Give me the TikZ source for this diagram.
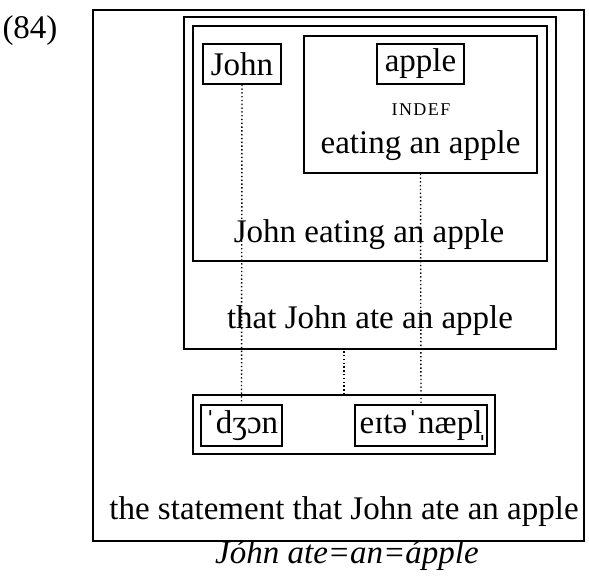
\documentclass[tikz,border=0pt]{standalone}
\usepackage{fontspec}
\setmainfont{Liberation Serif}
\begin{document}
\begin{tikzpicture}[x=1pt,y=-1pt,
  box/.style={draw, line width=1.2pt, rectangle, inner sep=0pt, font=\fontsize{33}{38}\selectfont},
  txt/.style={inner sep=0pt, anchor=base, font=\fontsize{33}{38}\selectfont},
  capslbl/.style={inner sep=0pt, anchor=base, font=\fontsize{18}{22}\selectfont\addfontfeature{LetterSpace=8}},
  link/.style={line width=1.4pt, dash pattern=on 1.4pt off 2.4pt}]
\useasboundingbox (0,0) rectangle (589,578);

% example number
\node[txt] (num) at (30,39) {(84)};

% nested meaning boxes
\node[box, minimum width=491pt, minimum height=531pt] (stmt) at (338.5,275.5) {};
\node[box, minimum width=372pt, minimum height=332pt] (that) at (370,183) {};
\node[box, minimum width=354pt, minimum height=235pt] (jea) at (370,143.5) {};
\node[box, minimum width=233pt, minimum height=137pt] (eat) at (420.5,104.5) {};
\node[box, minimum width=87pt, minimum height=40pt] (apple) at (420.5,64) {apple};
\node[box, minimum width=78pt, minimum height=40pt] (john) at (242,64) {John};

% labels of the boxes
\node[capslbl] (indef) at (421,115) {INDEF};
\node[txt] (eatlbl) at (420.5,153) {eating an apple};
\node[txt] (jealbl) at (369,242) {John eating an apple};
\node[txt] (thatlbl) at (370,328) {that John ate an apple};
\node[txt] (stmtlbl) at (344,519) {the statement that John ate an apple};

% phonological boxes
\node[box, minimum width=302pt, minimum height=59pt] (phon) at (344,424.5) {};
\node[box, minimum width=81pt, minimum height=41pt] (pjohn) at (241.5,425.5) {ˈdʒɔn};
\node[box, minimum width=132pt, minimum height=41pt] (prest) at (421,425.5) {eɪtəˈnæpl̩};

% correspondence links
\draw[link] (john.south) -- (pjohn.north);
\draw[link] (eat.south) -- (prest.north);
\draw[link] (phon.north) |- (that.south);

% orthographic line
\node[txt, font=\fontsize{33}{38}\selectfont\itshape] (orth) at (347,563) {Jóhn ate=an=ápple};
\end{tikzpicture}
\end{document}
